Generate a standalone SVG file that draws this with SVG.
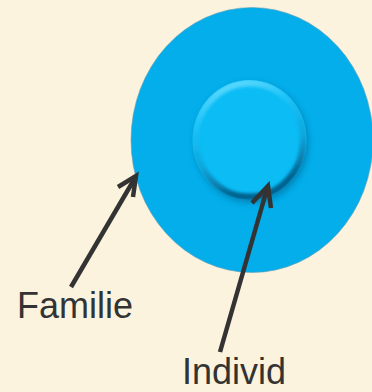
<svg xmlns="http://www.w3.org/2000/svg" width="372" height="392" viewBox="0 0 372 392">
  <defs>
    <style>
      .label { font-family: "Liberation Sans", Arial, sans-serif; font-size: 36px; fill: #333333; }
      .arrow { fill: none; stroke: #333333; stroke-width: 4.5; stroke-linecap: butt; }
      .head { fill: none; stroke: #333333; stroke-width: 4.5; stroke-linejoin: miter; stroke-linecap: butt; }
    </style>
    <linearGradient id="bevel" x1="0" y1="0" x2="0.3" y2="1">
      <stop offset="0" stop-color="#6fe0ff"/>
      <stop offset="0.35" stop-color="#1cc3f8"/>
      <stop offset="0.7" stop-color="#0aa6dc"/>
      <stop offset="1" stop-color="#05628f"/>
    </linearGradient>
    <filter id="soft" x="-20%" y="-20%" width="140%" height="140%">
      <feGaussianBlur stdDeviation="3"/>
    </filter>
    <filter id="softer" x="-20%" y="-20%" width="140%" height="140%">
      <feGaussianBlur stdDeviation="1.5"/>
    </filter>
    <clipPath id="innerClip">
      <ellipse cx="249.5" cy="140" rx="57" ry="60"/>
    </clipPath>
  </defs>

  <rect width="372" height="392" fill="#fbf3de"/>

  <!-- outer circle: family -->
  <g id="familie">
    <ellipse cx="252" cy="140" rx="121" ry="132.5" fill="#03aeea" stroke="#6b9fb8" stroke-width="1" stroke-opacity="0.6"/>
  </g>

  <!-- inner raised disc: individual -->
  <g id="individ">
    <ellipse cx="251.5" cy="143" rx="57" ry="60" fill="#046b99" opacity="0.6" filter="url(#soft)"/>
    <ellipse cx="249.5" cy="140" rx="57" ry="60" fill="#0bbcf5"/>
    <g clip-path="url(#innerClip)">
      <ellipse cx="249.5" cy="140" rx="54" ry="57" fill="none" stroke="url(#bevel)" stroke-width="7" filter="url(#softer)"/>
    </g>
  </g>

  <!-- pointer arrows -->
  <g id="connectors">
    <line class="arrow" x1="71" y1="287" x2="135" y2="178"/>
    <polyline class="head" points="118,187 136,176 133,197"/>
    <line class="arrow" x1="220" y1="352" x2="267" y2="189"/>
    <polyline class="head" points="252,203 268,186 271,208"/>
  </g>

  <text class="label" x="17" y="318">Familie</text>
  <text class="label" x="182" y="384">Individ</text>
</svg>
